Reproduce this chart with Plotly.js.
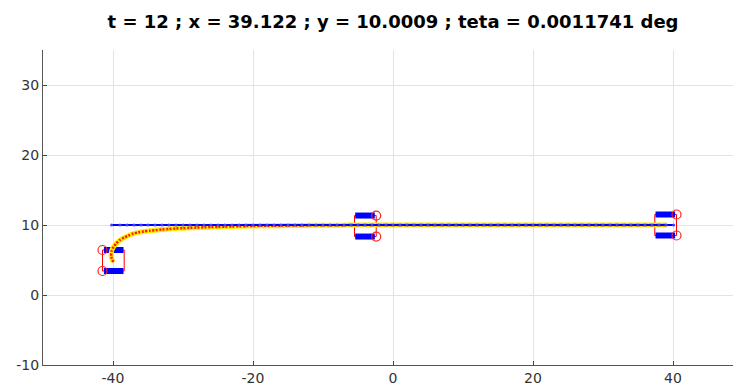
<!DOCTYPE html>
<html><head><meta charset="utf-8">
<script src="https://cdn.plot.ly/plotly-3.0.1.min.js"></script>
<style>html,body{margin:0;padding:0;overflow:hidden;background:#fff}#plot{width:753px;height:392px}</style>
</head><body><div id="plot"></div>
<script>
// ---- data ----
const titleText = 't = 12 ; x = 39.122 ; y = 10.0009 ; teta = 0.0011741 deg';
const xTickVals = [-40, -20, 0, 20, 40];
const xTickText = ['-40', '-20', '0', '20', '40'];
const yTickVals = [-10, 0, 10, 20, 30];
const yTickText = ['-10', '0', '10', '20', '30'];

// actual trajectory (yellow with red dots)
const trajX = [-39.96, -40.25, -40.2, -39.9, -39.5, -39.0, -38.4, -37.8, -37.1, -36.4, -35.6, -34.7, -34, -33, -32, -31, -30, -29, -28, -27, -26, -25, -24, -23, -22, -21, -20, -19, -18, -17, -16, -15, -14, -13, -12, -11, -10, -9, -8, -7, -6, -5, -4, -3, -2, -1, 0, 1, 2, 3, 4, 5, 6, 7, 8, 9, 10, 11, 12, 13, 14, 15, 16, 17, 18, 19, 20, 21, 22, 23, 24, 25, 26, 27, 28, 29, 30, 31, 32, 33, 34, 35, 36, 37, 38, 39, 39.12];
const trajY = [4.7, 5.5, 6.3, 6.9, 7.4, 7.86, 8.2, 8.5, 8.78, 8.95, 9.08, 9.19, 9.26, 9.35, 9.43, 9.50, 9.55, 9.60, 9.64, 9.67, 9.70, 9.73, 9.76, 9.79, 9.82, 9.84, 9.86, 9.88, 9.89, 9.90, 9.91, 9.92, 9.93, 9.94, 9.95, 9.96, 9.97, 9.97, 9.98, 9.98, 9.99, 9.99, 9.99, 10, 10, 10, 10, 10, 10, 10, 10, 10, 10, 10, 10, 10, 10, 10, 10, 10, 10, 10, 10, 10, 10, 10, 10, 10, 10, 10, 10, 10, 10, 10, 10, 10, 10, 10, 10, 10, 10, 10, 10, 10, 10, 10, 10];

// reference path (blue)
const refX = [-40.2, -39, -38, -37, -36, -35, -34, -33, -32, -31, -30, -29, -28, -27, -26, -25, -24, -23, -22, -21, -20, -19, -18, -17, -16, -15, -14, -13, -12, -11, -10, -9, -8, -7, -6, -5, -4, -3, -2, -1, 0, 1, 2, 3, 4, 5, 6, 7, 8, 9, 10, 11, 12, 13, 14, 15, 16, 17, 18, 19, 20, 21, 22, 23, 24, 25, 26, 27, 28, 29, 30, 31, 32, 33, 34, 35, 36, 37, 38, 39, 40.1];
const refY = [10, 10, 10, 10, 10, 10, 10, 10, 10, 10, 10, 10, 10, 10, 10, 10, 10, 10, 10, 10, 10, 10, 10, 10, 10, 10, 10, 10, 10, 10, 10, 10, 10, 10, 10, 10, 10, 10, 10, 10, 10, 10, 10, 10, 10, 10, 10, 10, 10, 10, 10, 10, 10, 10, 10, 10, 10, 10, 10, 10, 10, 10, 10, 10, 10, 10, 10, 10, 10, 10, 10, 10, 10, 10, 10, 10, 10, 10, 10, 10, 10];

// vehicle poses drawn (x, y, heading in degrees)
const poseX = [-39.9, -4.0, 38.9];
const poseY = [4.93, 9.85, 10.0];
const poseTheta = [180, 0, 0];

// ---- vehicle geometry (sizes) ----
const WHEEL_HALF = 1.4, TRACK = 1.5, BODY_FRONT = 1.6, BODY_REAR = -1.5, CASTER = 1.6;

function tf(i, a, b) {
  const t = poseTheta[i] * Math.PI / 180;
  return [poseX[i] + a * Math.cos(t) - b * Math.sin(t), poseY[i] + a * Math.sin(t) + b * Math.cos(t)];
}

const bodyX = [], bodyY = [], barX = [], barY = [], casX = [], casY = [];
for (let i = 0; i < poseX.length; i++) {
  const rect = [[BODY_REAR, -TRACK], [BODY_FRONT, -TRACK], [BODY_FRONT, TRACK], [BODY_REAR, TRACK], [BODY_REAR, -TRACK]];
  rect.forEach(([a, b]) => { const p = tf(i, a, b); bodyX.push(p[0]); bodyY.push(p[1]); });
  bodyX.push(null); bodyY.push(null);
  [TRACK, -TRACK].forEach(b => {
    const p1 = tf(i, -WHEEL_HALF, b), p2 = tf(i, WHEEL_HALF, b);
    barX.push(p1[0], p2[0], null); barY.push(p1[1], p2[1], null);
    const c = tf(i, CASTER, b); casX.push(c[0]); casY.push(c[1]);
  });
}

const traces = [
  {x: bodyX, y: bodyY, mode: 'lines', line: {color: '#ff0000', width: 1}, hoverinfo: 'skip'},
  {x: barX, y: barY, mode: 'lines', line: {color: '#0000ff', width: 6}, hoverinfo: 'skip'},
  {x: casX, y: casY, mode: 'markers', marker: {symbol: 'circle-open', size: 9, color: '#ff2020', line: {width: 1.2}}, hoverinfo: 'skip'},
  {x: trajX, y: trajY, mode: 'lines', line: {color: '#ffee00', width: 5, shape: 'spline', smoothing: 0.6}, hoverinfo: 'skip'},
  {x: trajX, y: trajY, mode: 'lines', line: {color: '#ff1a00', width: 2.5, dash: '2px,1.5px', shape: 'spline', smoothing: 0.6}, hoverinfo: 'skip'},
  {x: refX, y: refY, mode: 'lines+markers', line: {color: '#0000ff', width: 2}, marker: {color: '#4040ff', size: 3}, hoverinfo: 'skip'}
];

const axisCommon = {
  showline: true, linecolor: '#555', linewidth: 1,
  ticks: 'inside', ticklen: 4, tickcolor: '#444', tickwidth: 1,
  showgrid: true, gridcolor: '#e3e3e3', gridwidth: 1,
  zeroline: false, tickmode: 'array',
  tickfont: {family: 'DejaVu Sans', size: 14, color: '#333'},
  mirror: false, fixedrange: true
};

const layout = {
  width: 753, height: 392,
  margin: {l: 43, r: 10, t: 50, b: 27, pad: 0},
  paper_bgcolor: '#fff', plot_bgcolor: '#fff',
  showlegend: false,
  title: {text: titleText, font: {family: 'DejaVu Sans', size: 18, color: '#000', weight: 'bold'},
          x: 0.5, xref: 'paper', xanchor: 'center', y: 1 - 22 / 392, yref: 'container', yanchor: 'middle'},
  xaxis: Object.assign({}, axisCommon, {range: [-50, 50], tickvals: xTickVals, ticktext: xTickText}),
  yaxis: Object.assign({}, axisCommon, {range: [-10, 35], tickvals: yTickVals, ticktext: yTickText})
};

Plotly.newPlot('plot', traces, layout, {staticPlot: true, displayModeBar: false});
</script>
</body></html>
